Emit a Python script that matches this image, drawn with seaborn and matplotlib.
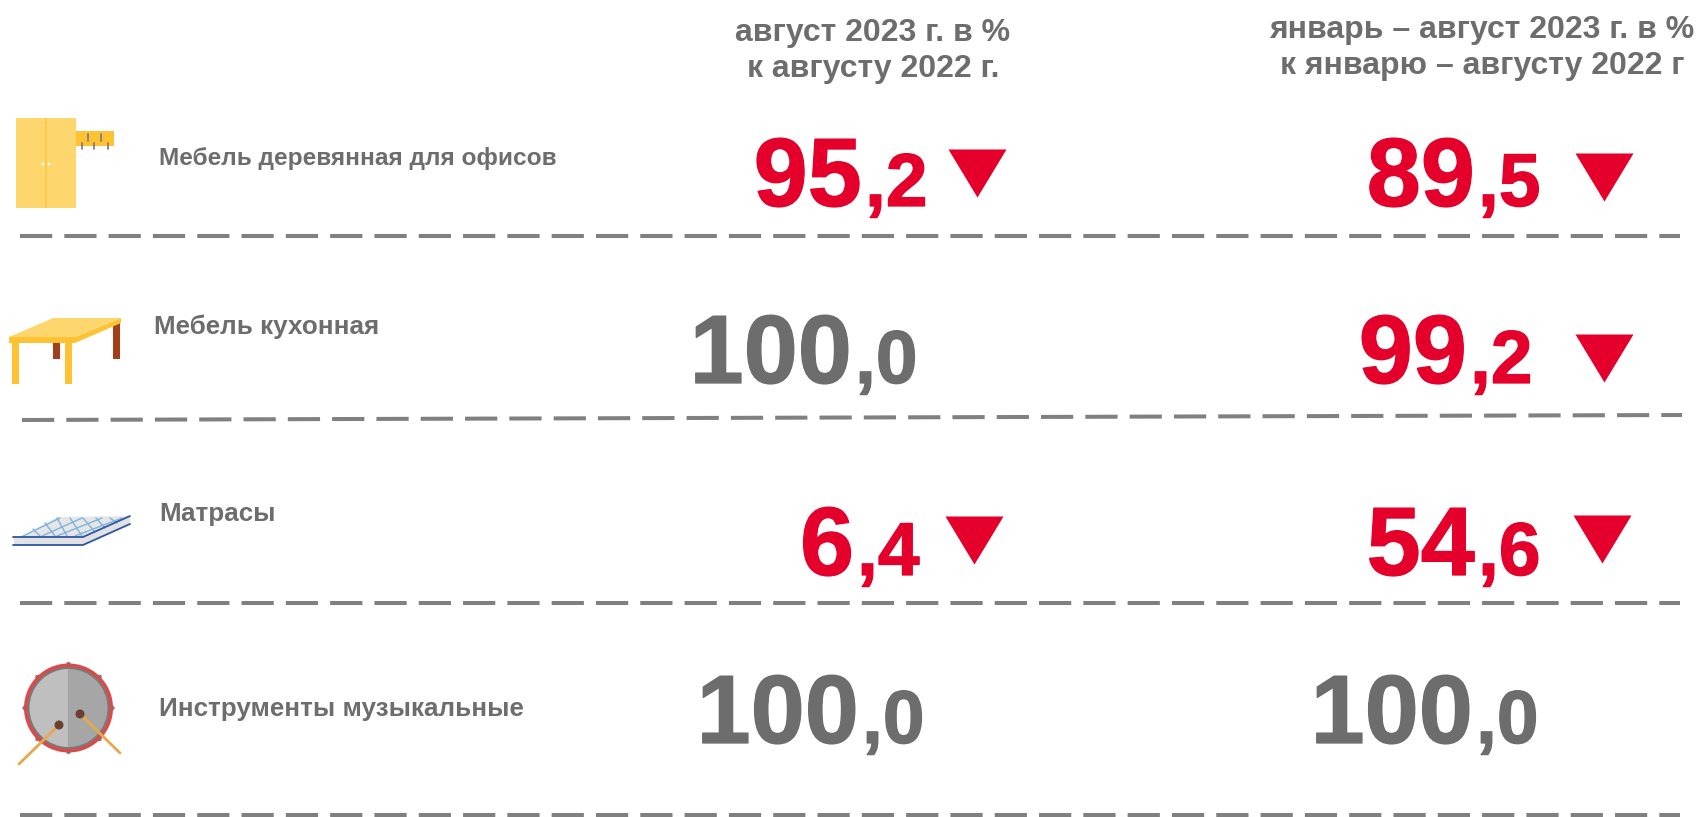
import numpy as np
import pandas as pd
import matplotlib
matplotlib.use('Agg')
import matplotlib.pyplot as plt
import matplotlib.patheffects as pe
from matplotlib.patches import Polygon, Circle, Rectangle, Wedge
import seaborn as sns

# Data
categories = ['Мебель деревянная для офисов', 'Мебель кухонная', 'Матрасы', 'Инструменты музыкальные']
headers = ['август 2023 г. в %\nк августу 2022 г.', 'январь – август 2023 г. в %\nк январю – августу 2022 г']
aug_values = ['95,2', '100,0', '6,4', '100,0']
ytd_values = ['89,5', '99,2', '54,6', '100,0']

RED = '#E4002B'
GREY = '#6D6D6D'
LINE = '#808080'

sns.set_theme(style='white')
plt.rcParams['font.family'] = ['Liberation Sans', 'DejaVu Sans']

fig, ax = plt.subplots(figsize=(17.01, 8.17), dpi=100)
ax.set_position([0, 0, 1, 1])
ax.set_xlim(0, 1701)
ax.set_ylim(817, 0)
ax.axis('off')

# Layout in pixels
label_pos = [(159, 158), (154, 327), (159, 514), (159, 709)]
label_size = [17.6, 18.7, 18.7, 18.7]
header_pos = [(873, 51), (1482, 48)]
aug_split = [(862, 206), (852, 383), (854, 575), (859, 743)]
ytd_split = [(1475, 206), (1467, 383), (1475, 575), (1473, 743)]
aug_tri = [(977, 173), None, (974, 540), None]
ytd_tri = [(1604, 177), (1604, 358), (1602, 539), None]
rules = [(20, 236, 1680, 236), (22, 420, 1682, 415), (20, 603, 1680, 603), (20, 815, 1680, 815)]

# Dashed rules
for x0, y0, x1, y1 in rules:
    sns.lineplot(x=[x0, x1], y=[y0, y1], ax=ax, color=LINE, linewidth=2.9,
                 linestyle=(0, (8, 3)), errorbar=None, legend=False)

# Headers
for (x, y), h in zip(header_pos, headers):
    ax.text(x, y, h, ha='center', va='center', fontsize=23, fontweight='bold',
            color=GREY, linespacing=1.25)

# Row labels
for (x, y), c, fs in zip(label_pos, categories, label_size):
    ax.text(x, y, c, ha='left', va='center', fontsize=fs, fontweight='bold', color=GREY)

# Big numbers, slightly thickened
def draw_value(val, x, y, col):
    main, dec = val.split(',')
    stroke = [pe.withStroke(linewidth=0.9, foreground=col)]
    ax.text(x, y, main, ha='right', va='baseline', fontsize=70, fontweight='bold', color=col, path_effects=stroke)
    ax.text(x + 3, y, ',' + dec, ha='left', va='baseline', fontsize=54, fontweight='bold', color=col, path_effects=stroke)

for vals, pos, tris in [(aug_values, aug_split, aug_tri), (ytd_values, ytd_split, ytd_tri)]:
    for val, (x, y), tri in zip(vals, pos, tris):
        draw_value(val, x, y, RED if tri is not None else GREY)

# Triangles
tri_df = pd.DataFrame([t for t in aug_tri + ytd_tri if t is not None], columns=['x', 'y'])
sns.scatterplot(data=tri_df, x='x', y='y', ax=ax, marker=[(-29, 24), (29, 24), (0, -24)],
                s=1745, color=RED, linewidth=0, legend=False)

# Icon: wardrobe
ax.add_patch(Rectangle((16, 118), 60, 90, fc='#FDD76E', ec='none'))
ax.add_patch(Rectangle((44.5, 118), 2, 90, fc='#FFC94D', ec='none'))
ax.add_patch(Rectangle((76, 131), 38, 15, fc='#FFC233', ec='none'))
for hx, hy0, hy1 in [(88, 134, 141), (101, 134, 141), (82, 143, 149), (94, 143, 149), (108, 143, 149)]:
    ax.plot([hx, hx], [hy0, hy1], color='#808080', lw=1.3)
for dx in [43, 49]:
    ax.add_patch(Circle((dx, 164), 1.4, fc='white', ec='none'))

# Icon: table
ax.add_patch(Rectangle((53, 343), 7, 16, fc='#A33E17', ec='none'))
ax.add_patch(Rectangle((113, 323), 7, 36, fc='#A33E17', ec='none'))
ax.add_patch(Rectangle((12, 343), 7, 41, fc='#FFC233', ec='none'))
ax.add_patch(Rectangle((65, 343), 7, 41, fc='#FFC233', ec='none'))
ax.add_patch(Polygon([(9, 337), (75, 337), (121, 318), (121, 323), (75, 343), (9, 343)], fc='#FFC233', ec='none'))
ax.add_patch(Polygon([(53, 318), (121, 318), (75, 337), (9, 337)], fc='#FDD76E', ec='none'))

# Icon: mattress
ax.add_patch(Polygon([(14, 537), (83, 537), (83, 545), (14, 545)], fc='#E2E2E2', ec='none'))
ax.add_patch(Polygon([(83, 537), (130, 516), (130, 524), (83, 545)], fc='#E2E2E2', ec='none'))
ax.add_patch(Polygon([(22, 537), (83, 537), (130, 516), (57, 517)], fc='#E6E6E6', ec='none'))
grid_lines = [(33, 529, 40, 536), (45, 523, 55, 536), (57, 518, 67, 536), (70, 518, 82, 536),
              (83, 518, 95, 532), (96, 518, 105, 528), (110, 518, 117, 523),
              (23, 536, 60, 518), (42, 536, 82, 518), (57, 536, 102, 518), (75, 536, 122, 518)]
for x0, y0, x1, y1 in grid_lines:
    ax.plot([x0, x1], [y0, y1], color='#7FB2DE', lw=1)
ax.plot([13, 83, 130], [537, 537, 516], color='#2F55A5', lw=1.3)
ax.plot([13, 83, 130], [545, 545, 524], color='#2F55A5', lw=1.3)

# Icon: drum
cx, cy = 68.5, 708
for ang in np.arange(0, 360, 45):
    ax.add_patch(Circle((cx + 44 * np.cos(np.radians(ang)), cy + 44 * np.sin(np.radians(ang))), 2.2, fc='#808080', ec='none'))
ax.add_patch(Circle((cx, cy), 44.5, fc='#D94A4A', ec='none'))
ax.add_patch(Circle((cx, cy), 41, fc='#7A7A7A', ec='none'))
ax.add_patch(Wedge((cx, cy), 39, 90, 270, fc='#BFBFBF', ec='none'))
ax.add_patch(Wedge((cx, cy), 39, 270, 90, fc='#A6A6A6', ec='none'))
ax.plot([59, 19], [725, 764], color='#E8A84A', lw=2)
ax.plot([80, 120], [714, 753], color='#E8A84A', lw=2)
ax.add_patch(Circle((59, 725), 4.5, fc='#6B4030', ec='none', zorder=3))
ax.add_patch(Circle((80, 714), 4.5, fc='#6B4030', ec='none', zorder=3))

plt.savefig('out.png', dpi=100)
